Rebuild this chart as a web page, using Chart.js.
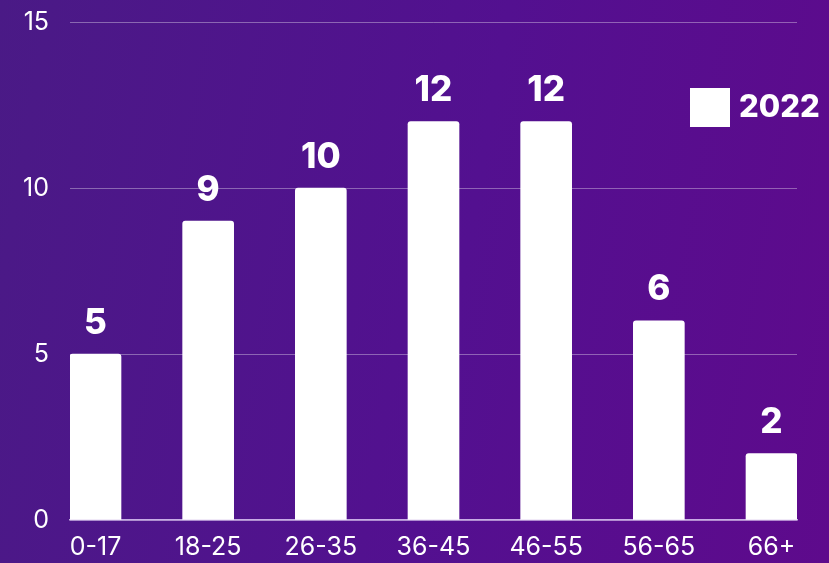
<!DOCTYPE html>
<html>
<head>
<meta charset="utf-8">
<script src="https://cdn.jsdelivr.net/npm/chart.js@4"></script>
<style>
    html, body { margin: 0; padding: 0; }
    body {
        width: 829px;
        height: 563px;
        background: linear-gradient(100deg, #4a1a86 0%, #531090 55%, #5e0a8c 100%);
        overflow: hidden;
    }
    #wrap { width: 829px; height: 563px; position: relative; }
</style>
</head>
<body>
<div id="wrap"><canvas id="graph-canvas"></canvas></div>
<script>
/* chart data */
const ageGroups = ["0-17", "18-25", "26-35", "36-45", "46-55", "56-65", "66+"]
const values2022 = [5, 9, 10, 12, 12, 6, 2]
const yTicks = [0, 5, 10, 15]
const seriesLabel = "2022"

const white = "#ffffff"
const tickFont = { family: "Inter", size: 25, weight: "400" }

/* value labels above each bar */
const barValueLabels = {
    id: "barValueLabels",
    afterDatasetsDraw(chart) {
        const ctx = chart.ctx
        const meta = chart.getDatasetMeta(0)
        ctx.save()
        ctx.fillStyle = white
        ctx.font = "800 35px Inter"
        ctx.textAlign = "center"
        ctx.textBaseline = "middle"
        meta.data.forEach((bar, i) => {
            ctx.fillText(String(values2022[i]), bar.x, bar.y - 31)
        })
        ctx.restore()
    }
}

/* legend drawn inside the plot, top right */
const cornerLegend = {
    id: "cornerLegend",
    afterDraw(chart) {
        const ctx = chart.ctx
        const area = chart.chartArea
        const x = area.right - 107
        const y = 88
        ctx.save()
        ctx.fillStyle = white
        ctx.fillRect(x, y, 40, 39)
        ctx.font = "800 31px Inter"
        ctx.textAlign = "left"
        ctx.textBaseline = "middle"
        ctx.fillText(seriesLabel, x + 49, y + 20)
        ctx.restore()
    }
}

const data = {
    datasets: [{
        label: seriesLabel,
        data: ageGroups.map((g, i) => ({ x: i, y: values2022[i] })),
        backgroundColor: white,
        borderWidth: 0,
        borderRadius: { topLeft: 3, topRight: 3 },
        borderSkipped: "bottom",
        barThickness: 51
    }]
}

const config = {
    type: "bar",
    data: data,
    plugins: [barValueLabels, cornerLegend],
    options: {
        responsive: true,
        maintainAspectRatio: false,
        animation: false,
        layout: { padding: { top: 22, right: 32, left: 0, bottom: 0 } },
        plugins: {
            legend: { display: false },
            tooltip: { enabled: false }
        },
        scales: {
            x: {
                type: "linear",
                offset: false,
                min: -0.2263,
                max: ageGroups.length - 1 + 0.2263,
                afterBuildTicks: scale => {
                    scale.ticks = ageGroups.map((g, i) => ({ value: i }))
                },
                afterFit: scale => {
                    scale.height = 43
                    scale.paddingLeft = 0
                    scale.paddingRight = 0
                },
                ticks: {
                    color: white,
                    font: tickFont,
                    padding: 12,
                    autoSkip: false,
                    maxRotation: 0,
                    callback: v => ageGroups[v] ?? ""
                },
                grid: { display: false, drawTicks: false },
                border: { display: true, color: "rgba(220, 200, 245, 0.85)", width: 1.5 }
            },
            y: {
                min: 0,
                max: 15,
                afterBuildTicks: scale => {
                    scale.ticks = yTicks.map(v => ({ value: v }))
                },
                afterFit: scale => {
                    scale.width = 70
                    scale.paddingTop = 0
                    scale.paddingBottom = 0
                },
                ticks: {
                    color: white,
                    font: tickFont,
                    padding: 21
                },
                grid: { color: "rgba(255, 255, 255, 0.35)", lineWidth: 1, drawTicks: false },
                border: { display: false }
            }
        }
    }
}

const displayChart = new Chart(document.querySelector("#graph-canvas"), config)
</script>
</body>
</html>
